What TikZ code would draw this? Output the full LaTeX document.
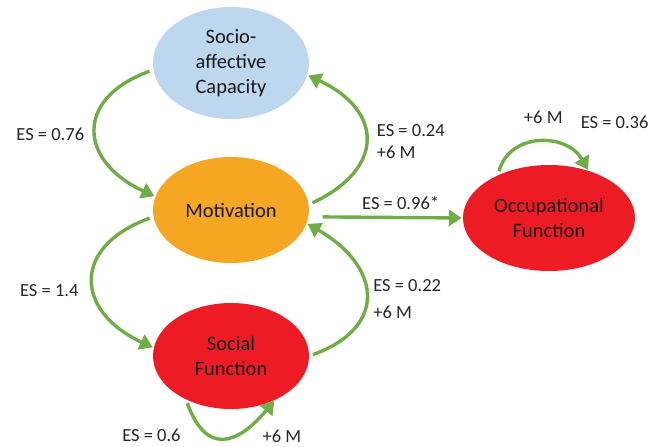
\documentclass[tikz,border=0pt]{standalone}
\usepackage{fontspec}
\setmainfont{Carlito}
\usetikzlibrary{arrows.meta, positioning, shapes.geometric}
\definecolor{arcgreen}{HTML}{70AD47}
\definecolor{socioblue}{HTML}{BDD7EE}
\definecolor{motorange}{HTML}{F5A623}
\definecolor{funcred}{HTML}{ED1C24}

\begin{document}
\begin{tikzpicture}[x=1pt,y=1pt,node distance=150pt,on grid,
    factor/.style={ellipse,inner sep=0pt,minimum width=156pt,minimum height=106pt,
      align=center,text=black!90,font=\fontsize{20.5}{25}\selectfont},
    effect/.style={inner sep=0pt,align=left,text=black!85,font=\fontsize{18.5}{22}\selectfont},
    link/.style={draw=arcgreen,line width=3.4pt,-{Triangle[width=16pt,length=13pt]},
      shorten <=4pt,shorten >=1pt}]
   \useasboundingbox (0,0) rectangle (654,-447);
   \node[factor,fill=socioblue,minimum height=112pt] (socio) at (231,-63) {Socio-\\affective\\Capacity};
   \node[factor,fill=motorange] (mot) [below=147pt of socio] {Motivation};
   \node[factor,fill=funcred] (social) [below=146pt of mot] {Social\\Function};
   \node[factor,fill=funcred,minimum width=172pt] (occ) [below right=8pt and 318pt of mot] {Occupational\\Function};
   \draw[link] (socio.185) to [out=200,in=155,looseness=1.7] node [effect,anchor=east,xshift=-10pt,yshift=-4pt] {ES = 0.76} (mot.170);
   \draw[link] (mot.4) to [out=25,in=-25,looseness=1.66] node [effect,anchor=west,xshift=10pt,yshift=-2pt] {ES = 0.24\\+6 M} (socio.-9);
   \draw[link] (mot.185) to [out=200,in=155,looseness=1.7] node [effect,anchor=east,xshift=-13pt,yshift=-11pt] {ES = 1.4} (social.174);
   \draw[link] (social.0) to [out=20,in=-30,looseness=1.64] node [effect,anchor=west,xshift=6pt,yshift=-4pt] {ES = 0.22\\[5pt]+6 M} (mot.-10);
   \draw[link,shorten <=14pt] (mot.-5) -- node [effect,anchor=south,xshift=15pt,yshift=6pt] {ES = 0.96*} (occ.west);
   \draw[link] (occ.140) to [out=75,in=120,looseness=1.25] node [effect,xshift=4pt,yshift=25pt] {+6 M}
                  node [effect,pos=1,xshift=26pt,yshift=48pt] {ES = 0.36} (occ.50);
   \draw[link] (social.224) to [out=-70,in=-130,looseness=1.7] node [effect,pos=0.2,anchor=east,xshift=-17pt,yshift=-10pt] {ES = 0.6}
                  node [effect,pos=1,xshift=7pt,yshift=-36pt] {+6 M} (social.-45);
\end{tikzpicture}
\end{document}
